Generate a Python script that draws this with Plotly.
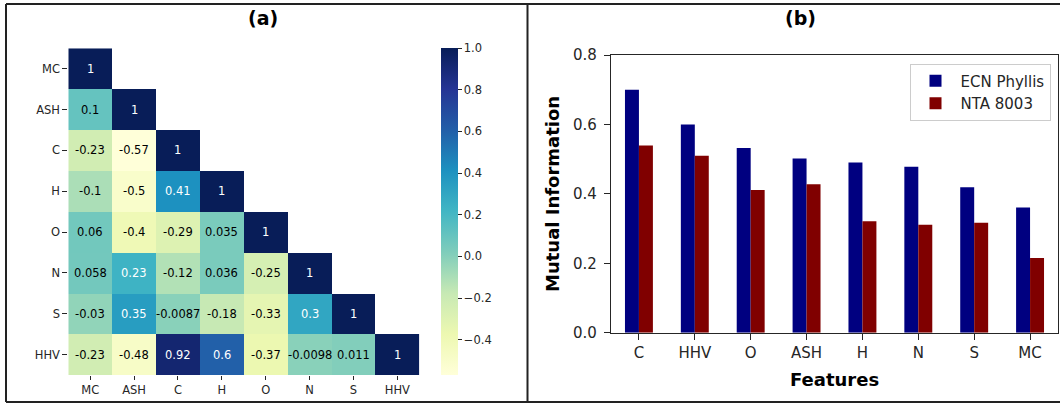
import plotly.graph_objects as go
from plotly.colors import sample_colorscale, sequential

# ---- panel (a): correlation matrix of fuel properties (lower triangle) ----
features = ["MC", "ASH", "C", "H", "O", "N", "S", "HHV"]
corr_mc = [1]
corr_ash = [0.1, 1]
corr_c = [-0.23, -0.57, 1]
corr_h = [-0.1, -0.5, 0.41, 1]
corr_o = [0.06, -0.4, -0.29, 0.035, 1]
corr_n = [0.058, 0.23, -0.12, 0.036, -0.25, 1]
corr_s = [-0.03, 0.35, -0.0087, -0.18, -0.33, 0.3, 1]
corr_hhv = [-0.23, -0.48, 0.92, 0.6, -0.37, -0.0098, 0.011, 1]
corr_rows = [corr_mc, corr_ash, corr_c, corr_h, corr_o, corr_n, corr_s, corr_hhv]

cbar_ticks = [-0.4, -0.2, 0.0, 0.2, 0.4, 0.6, 0.8, 1.0]

# ---- panel (b): mutual information per feature ----
mi_features = ["C", "HHV", "O", "ASH", "H", "N", "S", "MC"]
mi_ecn_phyllis = [0.70, 0.60, 0.532, 0.502, 0.490, 0.478, 0.419, 0.361]
mi_nta_8003 = [0.539, 0.510, 0.411, 0.428, 0.321, 0.311, 0.317, 0.215]

W, H = 1060, 404
FONT = "DejaVu Sans"
INK = "#262626"


def px_x(px):
    return px / W


def px_y(py):
    return 1 - py / H


# masked (upper-triangle) cells are left empty
n = len(features)
z = [row + [None] * (n - len(row)) for row in corr_rows]
zmin = min(v for row in corr_rows for v in row)
zmax = max(v for row in corr_rows for v in row)

ylgnbu = sequential.YlGnBu  # light yellow -> dark navy


def text_color(v):
    t = (v - zmin) / (zmax - zmin)
    c = sample_colorscale(ylgnbu, [t])[0]
    r, g, b = [float(s) / 255 for s in c[c.index("(") + 1:-1].split(",")]

    def lin(u):
        return u / 12.92 if u <= 0.03928 else ((u + 0.055) / 1.055) ** 2.4

    lum = 0.2126 * lin(r) + 0.7152 * lin(g) + 0.0722 * lin(b)
    return "black" if lum > 0.408 else "white"


fig = go.Figure()

fig.add_trace(go.Heatmap(
    z=z, x=features, y=features,
    zmin=zmin, zmax=zmax,
    colorscale=ylgnbu,
    xaxis="x", yaxis="y",
    hoverongaps=False,
    colorbar=dict(
        x=px_x(440.7), xanchor="left", xpad=0,
        y=px_y((48.3 + 375) / 2), yanchor="middle", ypad=0,
        len=(375 - 48.3) / H, lenmode="fraction",
        thickness=17, thicknessmode="pixels",
        outlinewidth=0,
        ticks="outside", ticklen=4, tickwidth=1, tickcolor=INK,
        tickvals=cbar_ticks,
        ticktext=[f"{v:.1f}".replace("-", "\u2212") for v in cbar_ticks],
        tickfont=dict(family=FONT, size=11.5, color=INK),
    ),
))

annotations = []
for i, row in enumerate(corr_rows):
    for j, v in enumerate(row):
        annotations.append(dict(
            x=features[j], y=features[i], xref="x", yref="y",
            xanchor="center", yanchor="middle",
            text=format(v, ".2g"), showarrow=False,
            font=dict(family=FONT, size=11.5, color=text_color(v)),
        ))

fig.add_trace(go.Bar(
    x=mi_features, y=mi_ecn_phyllis, name="ECN Phyllis",
    marker=dict(color="#000080", line=dict(width=0)),
    xaxis="x2", yaxis="y2",
))
fig.add_trace(go.Bar(
    x=mi_features, y=mi_nta_8003, name="NTA 8003",
    marker=dict(color="#800000", line=dict(width=0)),
    xaxis="x2", yaxis="y2",
))

# panel titles and axis titles
label = dict(xref="paper", yref="paper", xanchor="center", yanchor="middle",
             showarrow=False)
annotations += [
    dict(label, x=px_x(263), y=px_y(18), text="<b>(a)</b>",
         font=dict(family=FONT, size=19, color="black")),
    dict(label, x=px_x(800), y=px_y(18), text="<b>(b)</b>",
         font=dict(family=FONT, size=19, color="black")),
    dict(label, x=px_x(552), y=px_y(194), text="<b>Mutual Information</b>",
         textangle=-90, font=dict(family=FONT, size=18, color="black")),
    dict(label, x=px_x(834.5), y=px_y(379), text="<b>Features</b>",
         font=dict(family=FONT, size=18, color="black")),
]

# frame around the two panels
frame = dict(type="line", xref="paper", yref="paper",
             line=dict(color="#222222", width=2))
shapes = [
    dict(frame, x0=px_x(6), y0=px_y(4), x1=1, y1=px_y(4)),
    dict(frame, x0=px_x(6), y0=px_y(402), x1=1, y1=px_y(402)),
    dict(frame, x0=px_x(6), y0=px_y(4), x1=px_x(6), y1=px_y(402)),
    dict(frame, x0=px_x(527.5), y0=px_y(4), x1=px_x(527.5), y1=px_y(402)),
]

fig.update_layout(
    width=W, height=H, autosize=False,
    margin=dict(l=0, r=0, t=0, b=0, pad=0, autoexpand=False),
    paper_bgcolor="white", plot_bgcolor="white",
    font=dict(family=FONT, color=INK),
    barmode="group", bargap=0.5, bargroupgap=0,
    showlegend=True,
    legend=dict(
        x=px_x(1050.5), xanchor="right", y=px_y(63.5), yanchor="top",
        bgcolor="white", bordercolor="#cccccc", borderwidth=1,
        font=dict(family=FONT, size=15, color=INK),
        itemwidth=40, tracegroupgap=2,
    ),
    xaxis=dict(
        domain=[px_x(68.3), px_x(419.3)], anchor="y",
        showgrid=False, zeroline=False, showline=False,
        ticks="outside", ticklen=4, tickcolor=INK,
        tickfont=dict(family=FONT, size=11.5, color=INK),
        categoryorder="array", categoryarray=features,
    ),
    yaxis=dict(
        domain=[px_y(375), px_y(48.3)], anchor="x",
        autorange="reversed",
        showgrid=False, zeroline=False, showline=False,
        ticks="outside", ticklen=5, tickcolor=INK,
        tickfont=dict(family=FONT, size=11.5, color=INK),
        categoryorder="array", categoryarray=features,
    ),
    xaxis2=dict(
        domain=[px_x(611), px_x(1058)], anchor="y2",
        range=[-0.5, 7.5],
        showgrid=False, zeroline=False,
        showline=True, linecolor=INK, linewidth=1.3, mirror=True,
        ticks="outside", ticklen=6, tickcolor=INK,
        tickfont=dict(family=FONT, size=15, color=INK),
        categoryorder="array", categoryarray=mi_features,
    ),
    yaxis2=dict(
        domain=[px_y(332.7), px_y(55)], anchor="x2",
        range=[0, 0.8],
        tickvals=[0, 0.2, 0.4, 0.6, 0.8], tickformat=".1f",
        showgrid=False, zeroline=False,
        showline=True, linecolor=INK, linewidth=1.3, mirror=True,
        ticks="outside", ticklen=6, tickcolor=INK,
        ticklabelstandoff=4,
        tickfont=dict(family=FONT, size=15, color=INK),
    ),
    annotations=annotations,
    shapes=shapes,
)

fig.write_html("out.html")
